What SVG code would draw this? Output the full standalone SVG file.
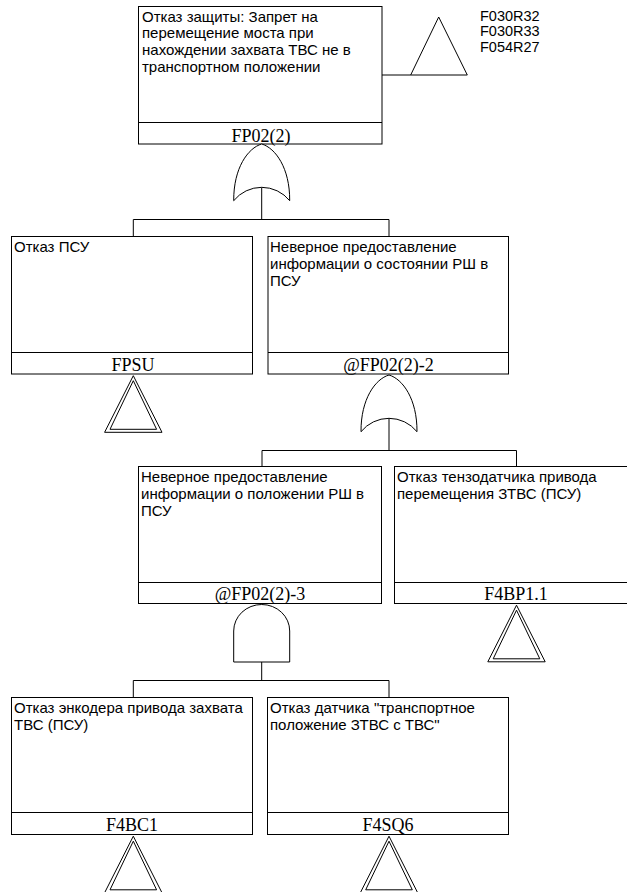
<svg xmlns="http://www.w3.org/2000/svg" width="627" height="892" viewBox="0 0 627 892">
<style>
.box{fill:#fff;stroke:#000;stroke-width:1}
.ln{fill:none;stroke:#000;stroke-width:1}
.gate{fill:#fff;stroke:#000;stroke-width:1}
.desc{font-family:"Liberation Sans",Arial,sans-serif;font-size:15px;fill:#000}
.lbl{font-family:"Liberation Serif","Times New Roman",serif;font-size:18px;fill:#000;text-anchor:middle}
.ref{font-family:"Liberation Sans",Arial,sans-serif;font-size:14.5px;fill:#000}
</style>
<defs>
<g id="xfer">
<path class="ln" d="M0,1.7 L28.7,58.3 L-28.7,58.3 Z"/>
<path class="ln" d="M0,6.7 L23.3,55.3 L-23.3,55.3 Z"/>
</g>
<path id="orgate" class="gate" d="M-28,56.7 C-28.2,24 -13.7,4 0,0 C13.7,4 28.2,24 28,56.7 A36 36 0 0 0 -28,56.7 Z"/>
</defs>
<rect width="627" height="892" fill="#fff"/>
<g id="connectors">
<path class="ln" d="M382,75 L467.3,75 M410.7,75 L438.7,17 L467.3,75"/>
<path class="ln" d="M261.7,187.3 V219.5 M133.3,236.5 V219.5 H389 V236.5"/>
<path class="ln" d="M389,418.3 V450.5 M262,466.5 V450.5 H516.5 V466.5"/>
<path class="ln" d="M261.7,662 V680.5 M133.3,697.5 V680.5 H389 V697.5"/>
</g>
<g id="FP02-2">
<rect class="box" x="138.5" y="6.5" width="243.5" height="137.5"/>
<line class="ln" x1="138.5" y1="122.5" x2="382" y2="122.5"/>
<text class="desc" x="142" y="21.7">Отказ защиты: Запрет на</text>
<text class="desc" x="142" y="38.4">перемещение моста при</text>
<text class="desc" x="142" y="55.1">нахождении захвата ТВС не в</text>
<text class="desc" x="142" y="71.8">транспортном положении</text>
<text class="lbl" x="261" y="141.5">FP02(2)</text>
</g>
<g id="transfer-refs">
<text class="ref" x="480" y="20.5">F030R32</text>
<text class="ref" x="480" y="36">F030R33</text>
<text class="ref" x="480" y="51.5">F054R27</text>
</g>
<g id="gate-or-1"><use href="#orgate" x="261.7" y="144"/></g>
<g id="FPSU">
<rect class="box" x="11.5" y="236.5" width="241" height="137.5"/>
<line class="ln" x1="11.5" y1="352.5" x2="252.5" y2="352.5"/>
<text class="desc" x="14" y="252">Отказ ПСУ</text>
<text class="lbl" x="133" y="370.7">FPSU</text>
<use href="#xfer" x="133.3" y="374"/>
</g>
<g id="FP02-2-2">
<rect class="box" x="268" y="236.5" width="240.5" height="137.5"/>
<line class="ln" x1="268" y1="352.5" x2="508.5" y2="352.5"/>
<text class="desc" x="270" y="252">Неверное предоставление</text>
<text class="desc" x="270" y="269">информации о состоянии РШ в</text>
<text class="desc" x="270" y="286">ПСУ</text>
<text class="lbl" x="388.5" y="370.7">@FP02(2)-2</text>
</g>
<g id="gate-or-2"><use href="#orgate" x="389" y="375"/></g>
<g id="FP02-2-3">
<rect class="box" x="138.5" y="466.5" width="243" height="137"/>
<line class="ln" x1="138.5" y1="582.5" x2="381.5" y2="582.5"/>
<text class="desc" x="141" y="482">Неверное предоставление</text>
<text class="desc" x="141" y="499">информации о положении РШ в</text>
<text class="desc" x="141" y="516">ПСУ</text>
<text class="lbl" x="260" y="600.3">@FP02(2)-3</text>
</g>
<g id="F4BP1.1">
<rect class="box" x="394.5" y="466.5" width="243" height="137"/>
<line class="ln" x1="394.5" y1="582.5" x2="637.5" y2="582.5"/>
<text class="desc" x="397" y="482">Отказ тензодатчика привода</text>
<text class="desc" x="397" y="499">перемещения ЗТВС (ПСУ)</text>
<text class="lbl" x="516" y="600.3">F4BP1.1</text>
<use href="#xfer" x="516.5" y="603.5"/>
</g>
<g id="gate-and">
<path class="gate" d="M233.7,662 L233.7,631 A28 26.5 0 0 1 289.7,631 L289.7,662 Z"/>
</g>
<g id="F4BC1">
<rect class="box" x="11.5" y="697.5" width="241" height="137"/>
<line class="ln" x1="11.5" y1="812.5" x2="252.5" y2="812.5"/>
<text class="desc" x="14" y="713">Отказ энкодера привода захвата</text>
<text class="desc" x="14" y="730">ТВС (ПСУ)</text>
<text class="lbl" x="132" y="831">F4BC1</text>
<use href="#xfer" x="133.3" y="834.5"/>
</g>
<g id="F4SQ6">
<rect class="box" x="267.5" y="697.5" width="241" height="137"/>
<line class="ln" x1="267.5" y1="812.5" x2="508.5" y2="812.5"/>
<text class="desc" x="270" y="713">Отказ датчика "транспортное</text>
<text class="desc" x="270" y="730">положение ЗТВС с ТВС"</text>
<text class="lbl" x="388" y="831">F4SQ6</text>
<use href="#xfer" x="389" y="834.5"/>
</g>
</svg>
